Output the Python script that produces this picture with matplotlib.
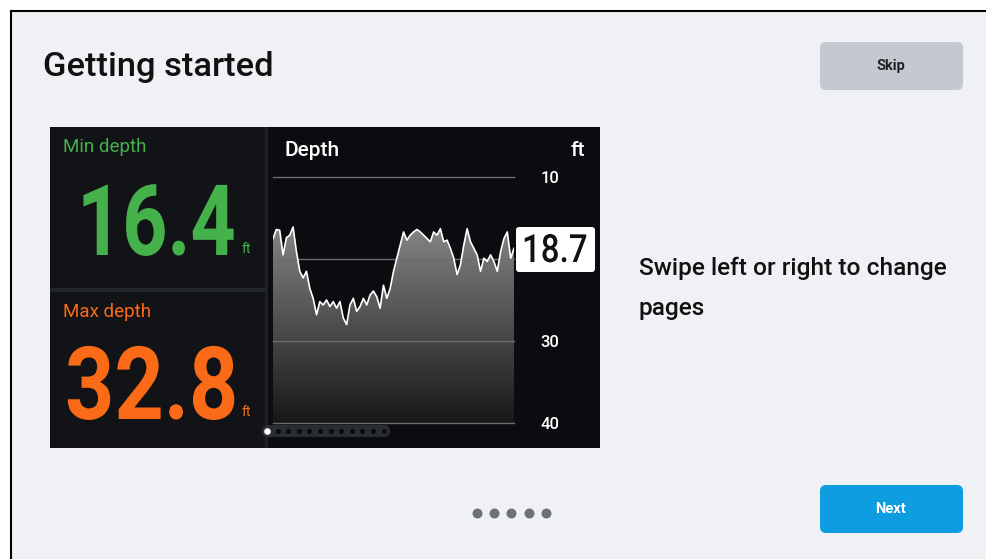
import matplotlib.pyplot as plt
import numpy as np
from matplotlib.patches import Rectangle, FancyBboxPatch, Polygon
from matplotlib.patheffects import AbstractPathEffect
from matplotlib.transforms import Affine2D

# depth trace (ft), left to right
depth = [17.5, 16.4, 16.5, 19.5, 17.4, 17.1, 16.1, 19.1, 21.5, 22.3, 21.5, 23.6,
         24.8, 26.8, 25.2, 25.6, 25.0, 25.8, 25.2, 26.0, 25.2, 27.2, 28.0, 25.6,
         24.8, 26.4, 25.8, 24.8, 25.6, 24.4, 23.9, 24.6, 26.0, 23.2, 24.8, 23.6,
         21.5, 19.9, 18.3, 16.7, 17.7, 17.1, 16.7, 16.4, 16.7, 17.1, 17.5, 17.9,
         16.7, 17.1, 16.3, 17.9, 17.7, 18.7, 19.9, 21.9, 20.7, 18.3, 16.3, 17.9,
         18.7, 19.5, 21.5, 19.9, 20.3, 19.5, 20.3, 21.5, 19.1, 17.5, 16.7, 19.9, 18.7]
ticks = [10, 20, 30, 40]
tick_labels = ["10", "", "30", "40"]
min_depth = "16.4"
max_depth = "32.8"
current = "18.7"

plt.rcParams['font.family'] = ['Roboto', 'DejaVu Sans']


class Squeeze(AbstractPathEffect):
    # narrows the glyphs horizontally around x0 (pixels) - no condensed font here
    def __init__(self, sx, x0):
        super().__init__()
        self.sx, self.x0 = sx, x0

    def draw_path(self, renderer, gc, tpath, affine, rgbFace=None):
        a = affine + Affine2D().translate(-self.x0, 0).scale(self.sx, 1).translate(self.x0, 0)
        renderer.draw_path(gc, tpath, a, rgbFace)


W, H = 986, 559
fig = plt.figure(figsize=(W / 100, H / 100), dpi=100)
fig.patch.set_facecolor("white")

# background axes in pixel coordinates
bg = fig.add_axes([0, 0, 1, 1])
bg.set_xlim(0, W)
bg.set_ylim(H, 0)
bg.axis("off")

bg.add_patch(Rectangle((11, 11), W - 11, H - 11, facecolor="#eff1f4", edgecolor="none"))
bg.plot([11, W], [11, 11], color="black", lw=1.5)
bg.plot([11, 11], [11, H], color="black", lw=1.5)

bg.text(43, 67, "Getting started", fontsize=24.8, fontweight="medium", color="#111111", va="center")

# buttons
bg.add_patch(FancyBboxPatch((820, 42), 143, 48, boxstyle="round,pad=0,rounding_size=6",
                            facecolor="#c4c8d0", edgecolor="none"))
bg.text(891, 66, "Skip", fontsize=10.5, fontweight="bold", color="#222222", ha="center", va="center")
bg.add_patch(FancyBboxPatch((820, 485), 143, 48, boxstyle="round,pad=0,rounding_size=6",
                            facecolor="#0d9de0", edgecolor="none"))
bg.text(891, 509, "Next", fontsize=10.5, fontweight="bold", color="white", ha="center", va="center")

# page dots
for i in range(5):
    bg.scatter(477 + i * 17.2, 513, s=38, color="#6e7175", zorder=3)

bg.text(639, 268, "Swipe left or right to change", fontsize=17.6, fontweight="medium",
        color="#111111", va="center")
bg.text(639, 308, "pages", fontsize=17.6, fontweight="medium", color="#111111", va="center")

# dark display panel
bg.add_patch(Rectangle((50, 127), 550, 321, facecolor="#0b0c0f", edgecolor="none"))
bg.add_patch(Rectangle((50, 127), 215, 161, facecolor="#111317", edgecolor="none"))
bg.add_patch(Rectangle((50, 292), 215, 156, facecolor="#111317", edgecolor="none"))
bg.add_patch(Rectangle((50, 288), 215, 4, facecolor="#22252a", edgecolor="none"))
bg.add_patch(Rectangle((265, 127), 3, 321, facecolor="#1d2024", edgecolor="none"))

green = "#45b14b"
orange = "#fb6a16"
bg.text(63, 147, "Min depth", fontsize=13.5, color=green, va="center")
bg.text(77, 255, min_depth, fontsize=71, fontweight="bold", color=green, va="baseline",
        path_effects=[Squeeze(0.8, 77)])
bg.text(242, 253, "ft", fontsize=10, color=green, va="baseline")
bg.text(63, 312, "Max depth", fontsize=13.5, color=orange, va="center")
bg.text(65, 419, max_depth, fontsize=73, fontweight="bold", color=orange, va="baseline",
        path_effects=[Squeeze(0.85, 65)])
bg.text(242, 416, "ft", fontsize=10, color=orange, va="baseline")

bg.text(285, 150, "Depth", fontsize=15, fontweight="medium", color="white", va="center")
bg.text(585, 150, "ft", fontsize=15, fontweight="medium", color="white", va="center", ha="right")

# page indicator inside the chart panel
bg.add_patch(FancyBboxPatch((262, 425), 128, 12, boxstyle="round,pad=0,rounding_size=6",
                            facecolor="#2a2d31", edgecolor="none", zorder=3))
for i in range(12):
    bg.scatter(267 + i * 10.6, 431, s=7 if i else 14, color="#0b0c0f" if i else "white", zorder=4)

# depth chart
x0, x1, ytop, ybot = 273, 514, 177, 423
ax = fig.add_axes([x0 / W, 1 - ybot / H, (x1 - x0) / W, (ybot - ytop) / H])
ax.set_facecolor("#0b0c0f")
n = len(depth)
x = np.arange(n)
ax.set_xlim(0, n - 1)
ax.set_ylim(40, 10)
grad = np.linspace(0, 1, 256).reshape(-1, 1)
img = ax.imshow(grad, extent=[0, n - 1, 40, 10], aspect="auto",
                cmap=plt.matplotlib.colors.LinearSegmentedColormap.from_list("g", ["#a0a0a0", "#161718"]),
                zorder=1)
poly = Polygon(np.column_stack([np.r_[x, x[-1], 0], np.r_[depth, 40, 40]]), closed=True,
               transform=ax.transData, facecolor="none", edgecolor="none")
ax.add_patch(poly)
img.set_clip_path(poly)
ax.plot(x, depth, color="white", lw=1.2, zorder=3)
for t in ticks:
    ax.axhline(t, color="#6a6c70", lw=1.0, zorder=2, clip_on=False)
for s in ax.spines.values():
    s.set_visible(False)
ax.set_xticks([])
ax.yaxis.tick_right()
ax.set_yticks(ticks)
ax.set_yticklabels(tick_labels, color="white", fontsize=12, fontweight="medium")
ax.tick_params(axis="y", length=0, pad=19)

bg2 = fig.add_axes([0, 0, 1, 1], zorder=5)
bg2.set_xlim(0, W)
bg2.set_ylim(H, 0)
bg2.axis("off")
bg2.add_patch(FancyBboxPatch((516, 227), 79, 45, boxstyle="round,pad=0,rounding_size=3",
                             facecolor="white", edgecolor="none"))
bg2.text(522, 262, current, fontsize=28, fontweight="medium", color="#111111",
         va="baseline", path_effects=[Squeeze(0.85, 522)])

fig.savefig("out.png", dpi=100)
